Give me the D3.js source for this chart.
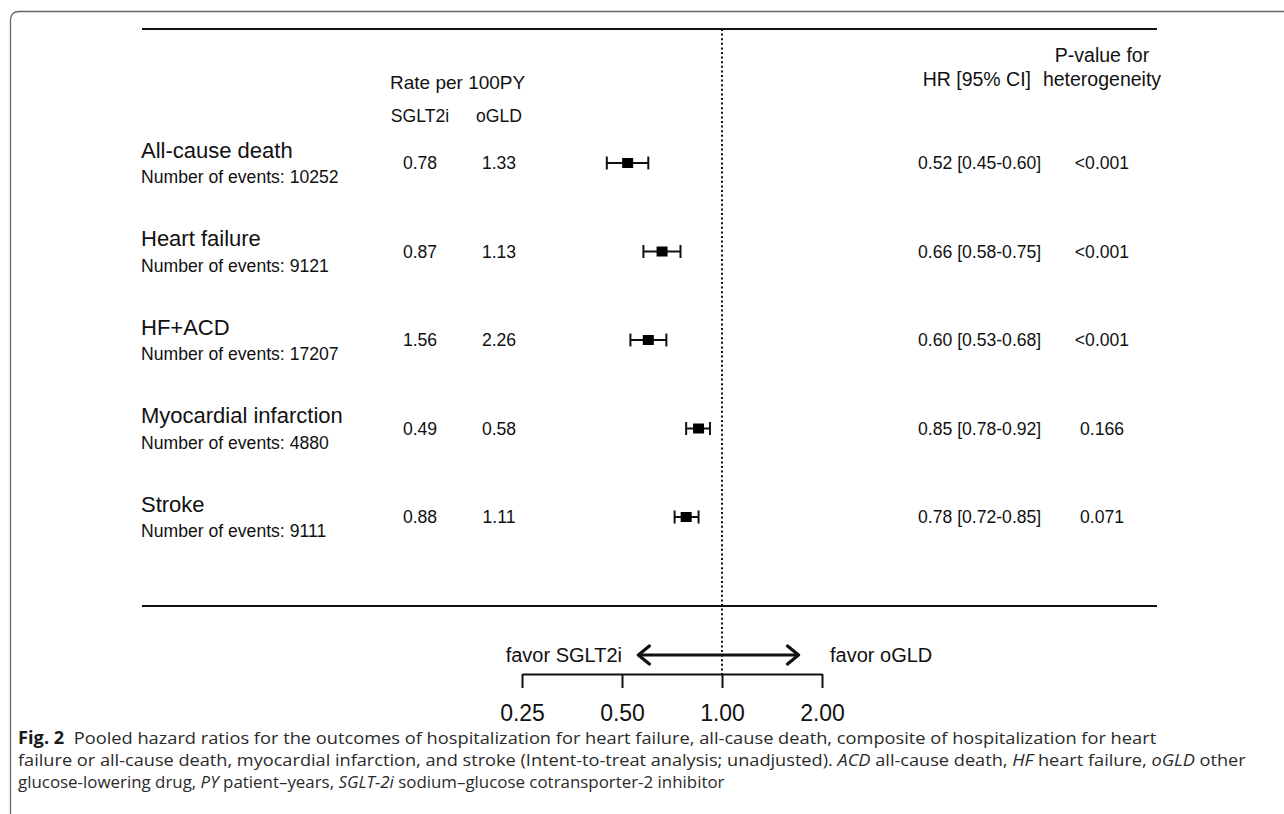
<!DOCTYPE html>
<html>
<head>
<meta charset="utf-8">
<script src="https://cdn.jsdelivr.net/npm/d3@7"></script>
<style>
  html, body { margin: 0; padding: 0; background: #fff; }
  svg { display: block; }
  text { font-family: "Liberation Sans", Arial, sans-serif; fill: #111; }
</style>
</head>
<body>
<svg id="chart" width="1284" height="814"></svg>
<script>
// ---------------- data ----------------
const outcomes = ["All-cause death", "Heart failure", "HF+ACD", "Myocardial infarction", "Stroke"];
const events = [10252, 9121, 17207, 4880, 9111];
const rateSGLT2i = ["0.78", "0.87", "1.56", "0.49", "0.88"];
const rateOGLD = ["1.33", "1.13", "2.26", "0.58", "1.11"];
const hr = [0.52, 0.66, 0.60, 0.85, 0.78];
const hrLower = [0.45, 0.58, 0.53, 0.78, 0.72];
const hrUpper = [0.60, 0.75, 0.68, 0.92, 0.85];
const pValues = ["<0.001", "<0.001", "<0.001", "0.166", "0.071"];
const axisTicks = [0.25, 0.5, 1, 2];
const tickLabels = ["0.25", "0.50", "1.00", "2.00"];
const favorLabels = ["favor SGLT2i", "favor oGLD"];

// ---------------- layout ----------------
const svg = d3.select("#chart");
const fmt = d3.format(".2f");

const x = d3.scaleLog().domain([0.25, 2]).range([522, 822]);
const y = d3.scalePoint().domain(outcomes).range([163, 517]);

const lineLeft = 142, lineRight = 1157;
const topLineY = 29, bottomLineY = 606, axisY = 674;

// frame
svg.append("path")
  .attr("d", `M10.5,820 L10.5,20 Q10.5,11.5 19,11.5 L1290,11.5`)
  .attr("fill", "none").attr("stroke", "#666").attr("stroke-width", 1.3);

// horizontal rules
svg.append("line").attr("x1", lineLeft).attr("x2", lineRight)
  .attr("y1", topLineY).attr("y2", topLineY)
  .attr("stroke", "#111").attr("stroke-width", 2);
svg.append("line").attr("x1", lineLeft).attr("x2", lineRight)
  .attr("y1", bottomLineY).attr("y2", bottomLineY)
  .attr("stroke", "#111").attr("stroke-width", 2);

// reference line at HR = 1
svg.append("line").attr("x1", x(1)).attr("x2", x(1))
  .attr("y1", topLineY).attr("y2", axisY)
  .attr("stroke", "#111").attr("stroke-width", 2)
  .attr("stroke-dasharray", "2,2.6");

// headers
svg.append("text").attr("x", 390).attr("y", 82).attr("dy", "0.35em")
  .style("font-size", "19px").text("Rate per 100PY");
svg.append("text").attr("x", 420).attr("y", 116).attr("dy", "0.35em")
  .attr("text-anchor", "middle").style("font-size", "17.6px").text("SGLT2i");
svg.append("text").attr("x", 499).attr("y", 116).attr("dy", "0.35em")
  .attr("text-anchor", "middle").style("font-size", "17.6px").text("oGLD");
svg.append("text").attr("x", 1031).attr("y", 79).attr("dy", "0.35em")
  .attr("text-anchor", "end").style("font-size", "19.5px").text("HR [95% CI]");
svg.append("text").attr("x", 1102).attr("y", 55).attr("dy", "0.35em")
  .attr("text-anchor", "middle").style("font-size", "19.5px").text("P-value for");
svg.append("text").attr("x", 1102).attr("y", 79).attr("dy", "0.35em")
  .attr("text-anchor", "middle").style("font-size", "19.5px").text("heterogeneity");

// rows
const rows = svg.append("g").selectAll("g").data(outcomes).join("g");

rows.append("text").attr("x", lineLeft - 1).attr("y", d => y(d) - 13).attr("dy", "0.35em")
  .style("font-size", "22px").text(d => d);
rows.append("text").attr("x", lineLeft - 1).attr("y", d => y(d) + 14).attr("dy", "0.35em")
  .style("font-size", "17.6px").text((d, i) => "Number of events: " + events[i]);
rows.append("text").attr("x", 420).attr("y", d => y(d)).attr("dy", "0.35em")
  .attr("text-anchor", "middle").style("font-size", "17.6px").text((d, i) => rateSGLT2i[i]);
rows.append("text").attr("x", 499).attr("y", d => y(d)).attr("dy", "0.35em")
  .attr("text-anchor", "middle").style("font-size", "17.6px").text((d, i) => rateOGLD[i]);
rows.append("text").attr("x", 918).attr("y", d => y(d)).attr("dy", "0.35em")
  .style("font-size", "17.6px")
  .text((d, i) => `${fmt(hr[i])} [${fmt(hrLower[i])}-${fmt(hrUpper[i])}]`);
rows.append("text").attr("x", 1102).attr("y", d => y(d)).attr("dy", "0.35em")
  .attr("text-anchor", "middle").style("font-size", "17.6px").text((d, i) => pValues[i]);

// CI whiskers
rows.append("line")
  .attr("x1", (d, i) => x(hrLower[i])).attr("x2", (d, i) => x(hrUpper[i]))
  .attr("y1", d => y(d)).attr("y2", d => y(d))
  .attr("stroke", "#111").attr("stroke-width", 2);
rows.append("line")
  .attr("x1", (d, i) => x(hrLower[i])).attr("x2", (d, i) => x(hrLower[i]))
  .attr("y1", d => y(d) - 6.5).attr("y2", d => y(d) + 6.5)
  .attr("stroke", "#111").attr("stroke-width", 2);
rows.append("line")
  .attr("x1", (d, i) => x(hrUpper[i])).attr("x2", (d, i) => x(hrUpper[i]))
  .attr("y1", d => y(d) - 6.5).attr("y2", d => y(d) + 6.5)
  .attr("stroke", "#111").attr("stroke-width", 2);
rows.append("rect")
  .attr("x", (d, i) => x(hr[i]) - 5.5).attr("y", d => y(d) - 5)
  .attr("width", 11).attr("height", 10).attr("fill", "#000");

// axis
const axis = d3.axisBottom(x).tickValues(axisTicks)
  .tickFormat((d, i) => tickLabels[i]).tickSize(14).tickSizeOuter(0).tickPadding(17);
const gAxis = svg.append("g").attr("transform", `translate(0,${axisY})`).call(axis);
gAxis.select(".domain").attr("stroke", "#111").attr("stroke-width", 2);
gAxis.selectAll(".tick line").attr("stroke", "#111").attr("stroke-width", 2);
gAxis.selectAll(".tick text").style("font-family", '"Liberation Sans", Arial, sans-serif')
  .style("font-size", "23px").attr("fill", "#111");

// favour arrow & labels
const arrowY = 655;
const defs = svg.append("defs");
["start", "end"].forEach(k => {
  defs.append("marker").attr("id", "chev-" + k)
    .attr("viewBox", "0 0 16 22").attr("refX", k === "end" ? 14 : 2).attr("refY", 11)
    .attr("markerWidth", 16).attr("markerHeight", 22).attr("markerUnits", "userSpaceOnUse")
    .attr("orient", "auto")
    .append("path")
    .attr("d", k === "end" ? "M3,2 L14,11 L3,20" : "M13,2 L2,11 L13,20")
    .attr("fill", "none").attr("stroke", "#111").attr("stroke-width", 3.2)
    .attr("stroke-linecap", "round").attr("stroke-linejoin", "round");
});
svg.append("line").attr("x1", x(0.56)).attr("x2", x(1.7))
  .attr("y1", arrowY).attr("y2", arrowY)
  .attr("stroke", "#111").attr("stroke-width", 3)
  .attr("marker-start", "url(#chev-start)").attr("marker-end", "url(#chev-end)");
svg.append("text").attr("x", x(0.5)).attr("y", arrowY).attr("dy", "0.35em")
  .attr("text-anchor", "end").style("font-size", "20px").text(favorLabels[0]);
svg.append("text").attr("x", x(2) + 8).attr("y", arrowY).attr("dy", "0.35em")
  .style("font-size", "20px").text(favorLabels[1]);

// caption
const capFont = '"Open Sans", "Noto Sans", sans-serif';
const capLines = [
  { y: 738, w: 1157 - 18, parts: [
    { t: "Fig. 2", b: true },
    { t: "\u00a0\u00a0Pooled hazard ratios for the outcomes of hospitalization for heart failure, all-cause death, composite of hospitalization for heart" } ] },
  { y: 760, w: 1247 - 18, parts: [
    { t: "failure or all-cause death, myocardial infarction, and stroke (Intent-to-treat analysis; unadjusted). " },
    { t: "ACD", i: true }, { t: " all-cause death, " }, { t: "HF", i: true },
    { t: " heart failure, " }, { t: "oGLD", i: true }, { t: " other" } ] },
  { y: 782, w: 725 - 18, parts: [
    { t: "glucose-lowering drug, " }, { t: "PY", i: true }, { t: " patient\u2013years, " },
    { t: "SGLT-2i", i: true }, { t: " sodium\u2013glucose cotransporter-2 inhibitor" } ] }
];
capLines.forEach(line => {
  const g = svg.append("g");
  const t = g.append("text").attr("x", 0).attr("y", 0).attr("dy", "0.35em")
    .style("font-family", capFont).style("font-size", "17px").style("fill", "#2a2a2a");
  line.parts.forEach(p => {
    t.append("tspan").text(p.t)
      .style("font-weight", p.b ? "700" : "400")
      .style("font-style", p.i ? "italic" : "normal")
      .style("fill", p.b ? "#1a1a1a" : "#2a2a2a");
  });
  const natural = t.node().getComputedTextLength();
  const s = line.w / natural;
  g.attr("transform", `translate(18,${line.y}) scale(${s},1)`);
});
</script>
</body>
</html>
